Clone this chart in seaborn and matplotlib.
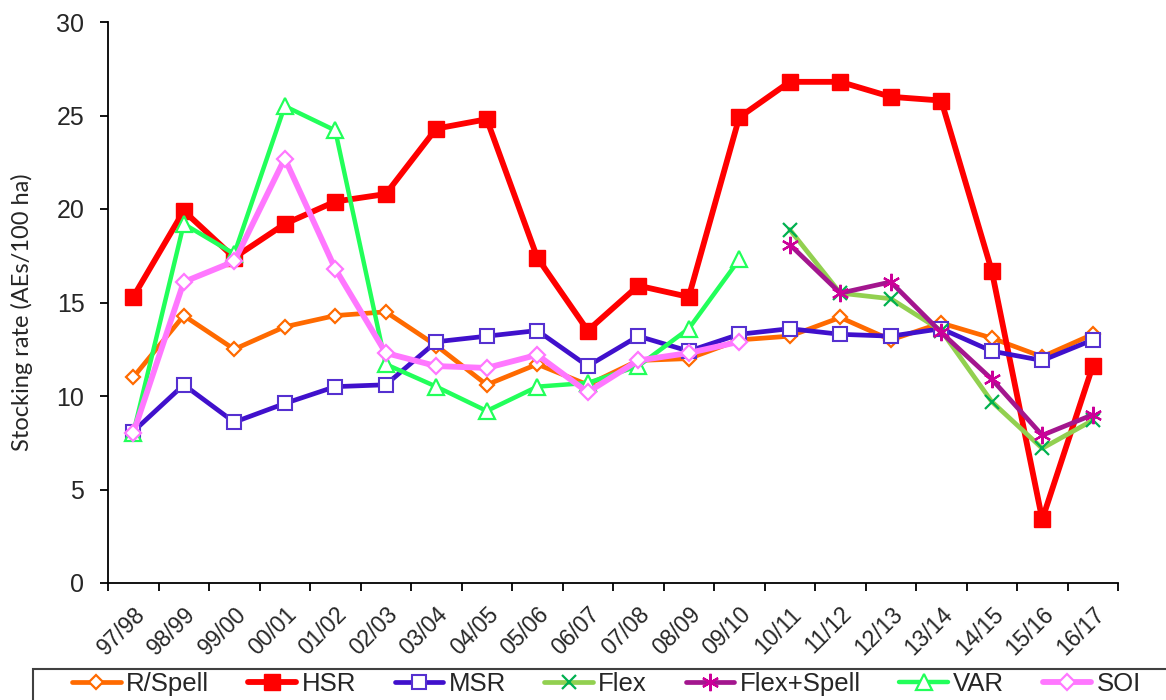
import matplotlib
matplotlib.use("Agg")
import matplotlib.pyplot as plt
import matplotlib.patches as mpatches
import seaborn as sns
import pandas as pd
import numpy as np

seasons = ["97/98", "98/99", "99/00", "00/01", "01/02", "02/03", "03/04", "04/05",
           "05/06", "06/07", "07/08", "08/09", "09/10", "10/11", "11/12", "12/13",
           "13/14", "14/15", "15/16", "16/17"]

r_spell = [11.0, 14.3, 12.5, 13.7, 14.3, 14.5, 12.7, 10.6, 11.7, 10.6,
           11.9, 12.0, 13.0, 13.2, 14.2, 13.0, 13.9, 13.1, 12.1, 13.3]
hsr = [15.3, 19.9, 17.4, 19.2, 20.4, 20.8, 24.3, 24.8, 17.4, 13.5,
       15.9, 15.3, 24.9, 26.8, 26.8, 26.0, 25.8, 16.7, 3.4, 11.6]
msr = [8.1, 10.6, 8.6, 9.6, 10.5, 10.6, 12.9, 13.2, 13.5, 11.6,
       13.2, 12.4, 13.3, 13.6, 13.3, 13.2, 13.6, 12.4, 11.9, 13.0]
# Flex and Flex+Spell only run from 10/11 onwards
flex = [18.9, 15.5, 15.2, 13.5, 9.7, 7.2, 8.7]
flex_spell = [18.1, 15.5, 16.1, 13.4, 10.9, 7.9, 9.0]
# VAR and SOI stop at 09/10
var = [8.0, 19.2, 17.6, 25.5, 24.2, 11.7, 10.5, 9.2, 10.5, 10.7, 11.6, 13.6, 17.3]
soi = [8.0, 16.1, 17.2, 22.7, 16.8, 12.3, 11.6, 11.5, 12.2, 10.2, 11.9, 12.3, 12.9]

series = [
    ("R/Spell", r_spell, 0),
    ("HSR", hsr, 0),
    ("MSR", msr, 0),
    ("Flex", flex, 13),
    ("Flex+Spell", flex_spell, 13),
    ("VAR", var, 0),
    ("SOI", soi, 0),
]

styles = {
    "R/Spell": dict(color="#FF6A00", lw=3.4, marker="D", ms=7.5, mfc="white", mec="#FF6A00", mew=1.6),
    "HSR": dict(color="#FF0000", lw=4.2, marker="s", ms=11.5, mfc="#FF0000", mec="#FF0000", mew=1.0),
    "MSR": dict(color="#4010CC", lw=3.4, marker="s", ms=10.5, mfc="white", mec="#5530D0", mew=1.5),
    "Flex": dict(color="#92D050", lw=3.4, marker="x", ms=10.5, mfc="none", mec="#00B050", mew=1.6),
    "Flex+Spell": dict(color="#A3168E", lw=3.4, marker=(6, 2, 0), ms=12.5, mfc="none", mec="#CC0099", mew=1.6),
    "VAR": dict(color="#22FF5A", lw=3.2, marker="^", ms=11.5, mfc="white", mec="#22FF5A", mew=1.6),
    "SOI": dict(color="#FF77FF", lw=4.2, marker="D", ms=8.5, mfc="white", mec="#FF77FF", mew=1.6),
}

sns.set_style("ticks")
plt.rcParams['font.family'] = ['Liberation Sans', 'DejaVu Sans']

fig = plt.figure(figsize=(11.66, 7.0), dpi=100)
ax = fig.add_axes([108 / 1166, 1 - 583 / 700, 1010 / 1166, 561 / 700])

for name, vals, start in series:
    df = pd.DataFrame({"x": np.arange(start, start + len(vals)), "y": vals})
    st = styles[name]
    sns.lineplot(data=df, x="x", y="y", ax=ax, label=name, color=st["color"],
                 linewidth=st["lw"], marker=st["marker"], markersize=st["ms"],
                 markerfacecolor=st["mfc"], markeredgecolor=st["mec"],
                 markeredgewidth=st["mew"], legend=False)

ax.set_xlim(-0.5, len(seasons) - 0.5)
ax.set_ylim(0, 30)
ax.set_yticks(range(0, 31, 5))
ax.set_xticks(np.arange(len(seasons)))
ax.set_xticks(np.arange(len(seasons) + 1) - 0.5, minor=True)
ax.set_xticklabels(seasons, rotation=45, ha="right", rotation_mode="anchor", fontsize=16.5)
ax.tick_params(axis="x", which="major", length=0, pad=14)
ax.tick_params(axis="x", which="minor", length=6, width=1.3, color="black")
ax.tick_params(axis="y", labelsize=18, length=6, width=1.3, color="black", pad=11)
sns.despine(ax=ax)
for sp in ["left", "bottom"]:
    ax.spines[sp].set_linewidth(1.3)
    ax.spines[sp].set_color("black")

ax.set_xlabel("")
ax.set_ylabel("Stocking rate (AEs/100 ha)", fontfamily="Lato", fontsize=17)
ax.yaxis.set_label_coords(-0.074, 0.483)

# legend box at the bottom, running off the right edge
frame = mpatches.Rectangle((33 / 1166, -0.05), 1.0, 0.05 + 1 - 669 / 700,
                           transform=fig.transFigure, fill=False,
                           edgecolor="#404040", linewidth=1.5, clip_on=False)
fig.add_artist(frame)

handles, labels = ax.get_legend_handles_labels()
fig.legend(handles, labels, loc="center left", bbox_to_anchor=(72 / 1166, 1 - 684 / 700),
           ncol=7, frameon=False, fontsize=18.5, handlelength=1.9, handletextpad=0.2,
           columnspacing=1.5, borderpad=0, borderaxespad=0)

fig.savefig("out.png", dpi=100)
